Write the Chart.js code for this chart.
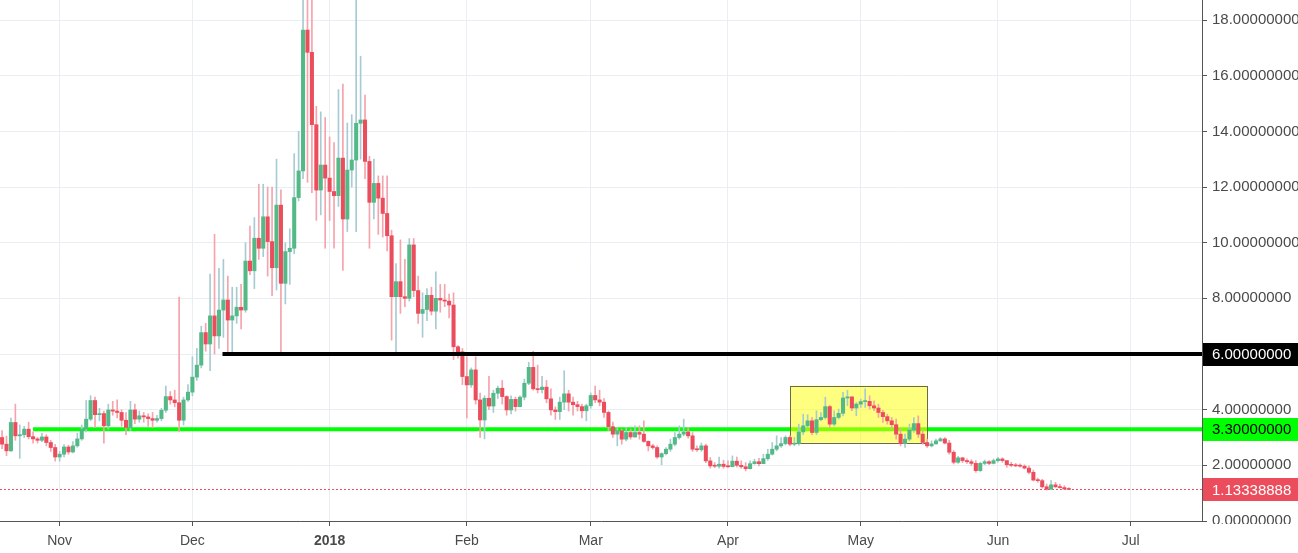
<!DOCTYPE html>
<html>
<head>
<meta charset="utf-8">
<script src="https://cdn.jsdelivr.net/npm/chart.js@4.4.1/dist/chart.umd.min.js"></script>
<style>
  html, body { margin: 0; padding: 0; background: #fff; }
  #wrap { width: 1298px; height: 553px; position: relative; }
</style>
</head>
<body>
<div id="wrap"><canvas id="myChart"></canvas></div>
<script>
// daily candles, day 0 = 1 Nov 2017, first candle = 19 Oct 2017
const startDay = -13;
const firstOpen = 3.00;

const closes = [
  2.76, 2.52, 3.54, 3.06, 3.10, 3.30, 3.03, 2.95, 2.90, 3.02,
  2.82, 2.64, 2.30, 2.40, 2.66, 2.48, 2.70, 2.95, 3.30, 3.66,
  4.33, 3.82, 3.86, 3.42, 3.99, 3.95, 3.90, 3.62, 3.36, 3.99,
  3.66, 3.78, 3.74, 3.68, 3.62, 3.68, 3.98, 4.47, 4.35, 4.25,
  3.62, 4.35, 4.63, 5.17, 5.60, 6.77, 6.36, 7.37, 6.65, 7.58,
  7.94, 7.22, 7.37, 7.68, 7.58, 9.34, 8.99, 10.16, 9.80, 10.93,
  10.04, 9.10, 11.35, 8.54, 9.68, 9.80, 11.62, 12.58, 17.64, 16.84,
  14.24, 11.89, 12.79, 12.32, 11.84, 11.69, 13.04, 10.85, 12.61, 12.97,
  14.29, 14.41, 12.92, 11.45, 12.13, 11.60, 11.05, 10.25, 8.06, 8.60,
  8.06, 8.00, 9.92, 8.28, 7.46, 7.60, 8.11, 7.54, 8.00, 7.94,
  7.90, 7.76, 6.26, 6.08, 5.19, 4.89, 5.43, 4.35, 3.63, 4.41,
  4.13, 4.59, 4.77, 4.47, 3.99, 4.37, 4.11, 4.45, 4.95, 5.52,
  4.75, 4.72, 4.81, 4.39, 3.99, 3.93, 4.27, 4.57, 4.27, 4.18,
  4.11, 3.96, 4.14, 4.51, 4.35, 4.27, 3.90, 3.39, 3.12, 3.24,
  2.94, 3.18, 3.02, 3.18, 3.12, 2.86, 2.70, 2.64, 2.30, 2.42,
  2.58, 2.76, 3.00, 3.12, 3.20, 3.06, 2.58, 2.56, 2.70, 2.16,
  1.98, 1.97, 2.04, 1.96, 1.95, 2.15, 2.00, 1.95, 1.88, 2.06,
  2.13, 2.06, 2.24, 2.40, 2.58, 2.70, 2.78, 3.00, 2.76, 2.78,
  3.20, 3.42, 3.60, 3.18, 3.64, 3.72, 4.11, 3.48, 3.72, 3.87,
  4.42, 4.46, 4.06, 4.20, 4.29, 4.30, 4.14, 4.06, 3.90, 3.75,
  3.60, 3.46, 3.12, 2.78, 2.94, 3.27, 3.50, 3.12, 2.82, 2.70,
  2.77, 2.88, 2.95, 2.80, 2.47, 2.11, 2.27, 2.17, 2.13, 2.07,
  1.81, 2.07, 2.13, 2.07, 2.17, 2.23, 2.17, 2.02, 2.00, 1.98,
  1.97, 1.90, 1.75, 1.47, 1.45, 1.23, 1.14, 1.30, 1.23, 1.20,
  1.15, 1.13338888
];

const highs = [
  3.25, 3.05, 3.70, 4.20, 3.45, 3.40, 3.55, 3.20, 3.00, 3.15,
  3.10, 2.90, 2.75, 2.50, 2.75, 2.72, 2.85, 3.15, 3.45, 4.33,
  4.50, 4.45, 4.05, 3.95, 4.20, 4.30, 4.35, 4.00, 3.90, 4.30,
  4.20, 3.95, 3.90, 3.85, 3.90, 3.80, 4.05, 4.85, 4.65, 4.70,
  8.05, 4.45, 4.90, 5.90, 6.20, 7.00, 7.10, 8.87, 10.30, 9.08,
  9.40, 8.80, 8.40, 8.40, 8.50, 10.00, 10.60, 10.90, 12.10, 12.10,
  12.00, 12.00, 13.00, 11.90, 10.00, 10.50, 13.20, 14.00, 19.50, 19.20,
  18.90, 14.90, 14.70, 14.50, 13.80, 13.60, 15.50, 15.70, 14.30, 14.60,
  19.50, 16.70, 15.30, 13.10, 13.00, 12.40, 12.40, 12.40, 10.45, 9.25,
  10.10, 9.40, 10.15, 10.15, 8.80, 8.20, 8.35, 8.40, 8.95, 8.50,
  8.50, 8.15, 8.20, 6.30, 6.20, 5.90, 5.50, 5.90, 4.60, 4.50,
  5.20, 4.70, 4.85, 5.05, 4.50, 4.50, 4.45, 4.50, 5.10, 5.70,
  6.10, 5.60, 5.20, 5.05, 4.75, 4.10, 4.45, 5.40, 4.70, 4.45,
  4.30, 4.20, 4.20, 4.60, 4.85, 4.70, 4.40, 3.95, 3.55, 3.36,
  3.30, 3.36, 3.30, 3.42, 3.42, 3.60, 2.88, 2.76, 2.70, 2.45,
  2.64, 2.94, 3.18, 3.42, 3.66, 3.36, 3.18, 2.70, 2.80, 2.76,
  2.28, 2.10, 2.30, 2.18, 2.16, 2.34, 2.30, 2.16, 2.10, 2.16,
  2.22, 2.25, 2.40, 2.58, 2.82, 3.06, 3.00, 3.06, 3.06, 3.00,
  3.48, 3.84, 3.82, 3.72, 3.96, 3.90, 4.45, 4.15, 3.96, 4.02,
  4.62, 4.70, 4.45, 4.26, 4.38, 4.75, 4.50, 4.32, 4.20, 3.98,
  3.84, 3.72, 3.66, 3.30, 3.12, 3.48, 3.72, 3.78, 3.24, 2.94,
  2.88, 2.94, 3.00, 3.00, 2.90, 2.53, 2.32, 2.29, 2.23, 2.20,
  2.17, 2.11, 2.19, 2.17, 2.23, 2.29, 2.27, 2.17, 2.11, 2.07,
  2.05, 2.02, 1.98, 1.83, 1.54, 1.50, 1.33, 1.45, 1.39, 1.33,
  1.27, 1.20
];

const lows = [
  2.60, 2.35, 2.50, 2.90, 2.25, 3.00, 2.95, 2.80, 2.80, 2.85,
  2.70, 2.50, 2.15, 2.15, 2.30, 2.40, 2.45, 2.65, 2.90, 3.20,
  3.60, 3.35, 3.60, 2.80, 3.30, 3.80, 3.70, 3.40, 3.10, 3.25,
  3.50, 3.55, 3.55, 3.40, 3.35, 3.55, 3.60, 3.90, 4.20, 4.10,
  3.20, 3.45, 4.30, 4.50, 5.05, 5.50, 6.10, 5.40, 6.00, 6.20,
  6.60, 6.00, 6.00, 7.10, 6.90, 7.50, 8.85, 8.35, 9.40, 9.50,
  8.80, 8.10, 8.30, 6.00, 7.80, 8.50, 9.60, 11.50, 12.30, 12.17,
  11.80, 10.80, 11.00, 9.80, 10.80, 9.80, 11.30, 9.00, 10.40, 12.00,
  10.40, 13.00, 12.30, 9.80, 10.85, 10.30, 10.20, 9.70, 6.50, 6.00,
  7.46, 7.70, 7.90, 8.06, 7.10, 6.60, 7.20, 7.40, 6.90, 7.50,
  7.70, 7.30, 5.80, 5.85, 4.90, 3.70, 4.80, 4.20, 3.00, 2.95,
  4.00, 3.90, 4.40, 4.20, 3.80, 3.85, 3.95, 4.10, 4.35, 4.90,
  4.70, 4.60, 4.60, 4.25, 3.80, 3.65, 3.65, 4.00, 3.95, 3.80,
  3.95, 3.70, 3.60, 4.05, 4.25, 4.14, 3.72, 3.24, 3.00, 2.70,
  2.76, 2.88, 2.94, 3.00, 2.94, 2.82, 2.52, 2.58, 2.25, 2.02,
  2.37, 2.50, 2.70, 2.94, 3.06, 2.98, 2.50, 2.50, 2.50, 2.10,
  1.90, 1.92, 1.90, 1.89, 1.92, 1.98, 1.94, 1.89, 1.80, 1.86,
  2.04, 1.98, 2.10, 2.18, 2.37, 2.52, 2.64, 2.73, 2.70, 2.70,
  2.72, 3.10, 3.35, 3.10, 3.10, 3.60, 3.66, 3.36, 3.42, 3.66,
  3.78, 4.14, 3.96, 3.78, 4.08, 4.08, 4.02, 3.96, 3.72, 3.54,
  3.48, 3.30, 2.94, 2.70, 2.64, 2.88, 3.18, 3.00, 2.76, 2.64,
  2.66, 2.76, 2.86, 2.77, 2.40, 2.05, 2.07, 2.10, 2.07, 1.99,
  1.75, 1.78, 2.02, 2.02, 2.05, 2.11, 2.11, 1.93, 1.95, 1.95,
  1.93, 1.87, 1.69, 1.44, 1.39, 1.18, 1.11, 1.18, 1.20, 1.18,
  1.14, 1.13
];

// axis ticks
const monthTicks = [0, 30, 61, 92, 120, 151, 181, 212, 242];
const monthLabels = ['Nov', 'Dec', '2018', 'Feb', 'Mar', 'Apr', 'May', 'Jun', 'Jul'];
const yearTick = 61;

// drawn levels (value, start day)
const resistance = 6.0;
const resistanceFrom = 36.8;
const support = 3.3;
const supportFrom = -6.0;
const lastPrice = closes[closes.length - 1];

// highlighted zone
const zoneFrom = 165;
const zoneTo = 196;
const zoneLow = 2.81;
const zoneHigh = 4.86;

const UP = '#53b987', DOWN = '#eb4d5c';
const UP_WICK = '#a7cbd2', DOWN_WICK = '#f5a3ac';
const FONT = "'Liberation Sans', Arial, sans-serif";

const bodies = [], wicks = [], bodyColors = [], wickColors = [];
closes.forEach((c, i) => {
  const o = i === 0 ? firstOpen : closes[i - 1];
  const day = startDay + i;
  const up = c >= o;
  bodies.push({ x: day, y: [o, c] });
  wicks.push({ x: day, y: [Math.min(lows[i], o, c), Math.max(highs[i], o, c)] });
  bodyColors.push(up ? UP : DOWN);
  wickColors.push(up ? UP_WICK : DOWN_WICK);
});

const fmt = v => v.toFixed(8);

const overlay = {
  id: 'overlay',
  beforeDatasetsDraw(chart) {
    const { ctx, chartArea: a, scales: { x, y } } = chart;
    ctx.save();
    ctx.beginPath();
    ctx.rect(a.left, a.top, a.right - a.left, a.bottom - a.top);
    ctx.clip();

    // last price dotted line
    const yl = Math.round(y.getPixelForValue(lastPrice)) + 0.5;
    ctx.strokeStyle = '#f0505f';
    ctx.lineWidth = 1;
    ctx.setLineDash([2, 2]);
    ctx.beginPath();
    ctx.moveTo(a.left, yl);
    ctx.lineTo(a.right, yl);
    ctx.stroke();
    ctx.setLineDash([]);

    // support line
    const ys = y.getPixelForValue(support);
    ctx.strokeStyle = '#00ff00';
    ctx.lineWidth = 4;
    ctx.beginPath();
    ctx.moveTo(x.getPixelForValue(supportFrom), ys);
    ctx.lineTo(a.right, ys);
    ctx.stroke();

    // zone
    const zx0 = x.getPixelForValue(zoneFrom), zx1 = x.getPixelForValue(zoneTo);
    const zy0 = y.getPixelForValue(zoneHigh), zy1 = y.getPixelForValue(zoneLow);
    ctx.fillStyle = 'rgba(255, 255, 0, 0.5)';
    ctx.fillRect(zx0, zy0, zx1 - zx0, zy1 - zy0);
    ctx.strokeStyle = '#6b6b4a';
    ctx.lineWidth = 1;
    ctx.strokeRect(Math.round(zx0) + 0.5, Math.round(zy0) + 0.5, Math.round(zx1 - zx0), Math.round(zy1 - zy0));
    ctx.restore();
  },
  afterDatasetsDraw(chart) {
    const { ctx, chartArea: a, scales: { x, y } } = chart;
    ctx.save();
    const yr = y.getPixelForValue(resistance);
    ctx.strokeStyle = '#000';
    ctx.lineWidth = 4;
    ctx.beginPath();
    ctx.moveTo(x.getPixelForValue(resistanceFrom), yr);
    ctx.lineTo(a.right, yr);
    ctx.stroke();
    ctx.restore();
  },
  afterDraw(chart) {
    const { ctx, chartArea: a, scales: { y } } = chart;
    ctx.save();
    // hide the part of the zero label that falls below the pane
    ctx.fillStyle = '#fff';
    ctx.fillRect(a.right + 1, a.bottom + 3, chart.width - a.right, chart.height - a.bottom);

    const tags = [
      { v: resistance, bg: '#000', fg: '#fff' },
      { v: support, bg: '#00ff00', fg: '#000' },
      { v: lastPrice, bg: DOWN, fg: '#fff' }
    ];
    ctx.font = '15px ' + FONT;
    ctx.textBaseline = 'middle';
    tags.forEach(t => {
      const py = y.getPixelForValue(t.v);
      ctx.fillStyle = t.bg;
      ctx.fillRect(a.right + 1, Math.round(py) - 11, chart.width - a.right, 23);
      ctx.fillStyle = t.fg;
      ctx.fillText(fmt(t.v), a.right + 10, py + 1);
    });
    ctx.restore();
  }
};

new Chart(document.getElementById('myChart'), {
  type: 'bar',
  data: {
    datasets: [
      { label: 'body', data: bodies, backgroundColor: bodyColors, barThickness: 3.4, grouped: false, order: 0, minBarLength: 1 },
      { label: 'wick', data: wicks, backgroundColor: wickColors, barThickness: 1, grouped: false, order: 1 }
    ]
  },
  options: {
    responsive: true,
    maintainAspectRatio: false,
    animation: false,
    layout: { padding: 0 },
    plugins: { legend: { display: false }, tooltip: { enabled: false } },
    scales: {
      x: {
        type: 'linear',
        min: -13.47,
        max: 258.1,
        offset: false,
        afterBuildTicks: s => { s.ticks = monthTicks.map(v => ({ value: v })); },
        afterFit: s => { s.height = 32; s.paddingLeft = 0; s.paddingRight = 0; },
        ticks: {
          autoSkip: false,
          maxRotation: 0,
          padding: 7,
          color: '#4a4a4a',
          font: c => ({ size: 14, family: FONT, weight: c.tick && c.tick.value === yearTick ? 'bold' : 'normal' }),
          callback: v => monthLabels[monthTicks.indexOf(v)]
        },
        grid: { color: '#e9eef2', tickColor: '#555', tickLength: 5, offset: false },
        border: { color: '#555' }
      },
      y: {
        position: 'right',
        min: 0,
        max: 18.72,
        afterFit: s => { s.width = 96; s.paddingTop = 0; s.paddingBottom = 0; },
        ticks: {
          stepSize: 2,
          includeBounds: false,
          padding: 5,
          color: '#4a4a4a',
          font: { size: 15, family: FONT },
          callback: v => fmt(v)
        },
        grid: { color: '#e9eef2', tickColor: '#555', tickLength: 5 },
        border: { color: '#555' }
      }
    }
  },
  plugins: [overlay]
});
</script>
</body>
</html>
